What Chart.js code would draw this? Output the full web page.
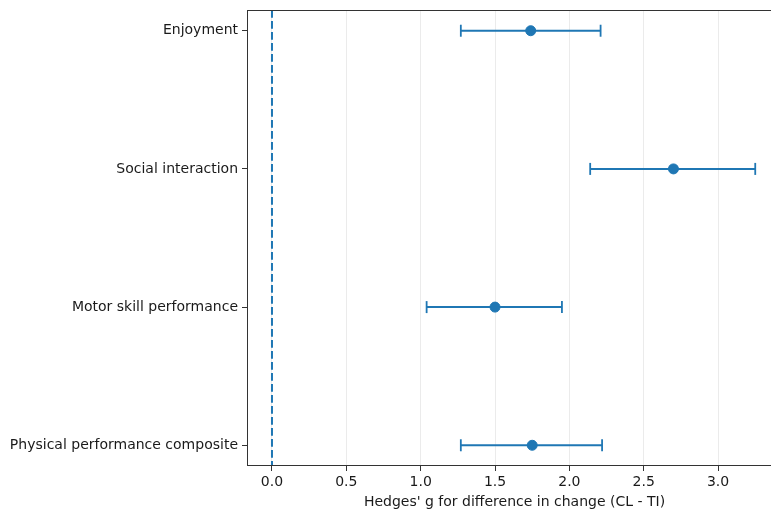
<!DOCTYPE html>
<html>
<head>
<meta charset="utf-8">
<script src="https://cdn.jsdelivr.net/npm/chart.js@4/dist/chart.umd.min.js"></script>
<style>
  html, body { margin: 0; padding: 0; background: #fff; overflow: hidden; }
  /* axes run a little past the right edge of the window, like the cropped original */
  #wrap { width: 782px; height: 511px; }
</style>
</head>
<body>
<div id="wrap"><canvas id="forest"></canvas></div>
<script>
const outcomes = ['Enjoyment', 'Social interaction', 'Motor skill performance', 'Physical performance composite'];
const hedgesG = [1.74, 2.70, 1.50, 1.75];
const ciLow = [1.27, 2.14, 1.04, 1.27];
const ciHigh = [2.21, 3.25, 1.95, 2.22];
const xTicks = [0, 0.5, 1.0, 1.5, 2.0, 2.5, 3.0];

const blue = '#1f77b4';
const dark = '#333333';

// one small line dataset per row for the confidence interval
const ciSets = outcomes.map((name, i) => ({
  type: 'line',
  data: [{ x: ciLow[i], y: i }, { x: ciHigh[i], y: i }],
  borderColor: blue,
  borderWidth: 2,
  pointStyle: 'line',
  rotation: 90,
  pointRadius: 6,
  pointBorderWidth: 1.8,
  pointBorderColor: blue,
  showLine: true,
  order: 2,
}));

const frame = {
  id: 'frame',
  afterDatasetsDraw(chart) {
    const a = chart.chartArea;
    const ctx = chart.ctx;
    ctx.save();
    ctx.strokeStyle = dark;
    ctx.lineWidth = 1;
    ctx.strokeRect(a.left + 0.5, a.top + 0.5, a.right - a.left - 1, a.bottom - a.top - 1);
    ctx.restore();
  },
};

new Chart(document.getElementById('forest'), {
  type: 'scatter',
  data: {
    datasets: [
      {
        type: 'line',
        data: [{ x: 0, y: -0.15 }, { x: 0, y: 3.15 }],
        borderColor: blue,
        borderWidth: 2,
        borderDash: [7.7, 3.3],
        pointRadius: 0,
        order: 3,
      },
      ...ciSets,
      {
        data: hedgesG.map((g, i) => ({ x: g, y: i })),
        backgroundColor: blue,
        borderColor: blue,
        pointRadius: 5,
        order: 1,
      },
    ],
  },
  options: {
    responsive: true,
    maintainAspectRatio: false,
    animation: false,
    layout: { autoPadding: false, padding: { top: 10, right: 0, left: 0, bottom: 0 } },
    plugins: {
      legend: { display: false },
      tooltip: { enabled: false },
    },
    scales: {
      x: {
        type: 'linear',
        min: -0.168,
        max: 3.43,
        afterBuildTicks: (s) => { s.ticks = xTicks.map((v) => ({ value: v })); },
        afterFit: (s) => { s.height = 45; s.paddingLeft = 0; s.paddingRight = 0; },
        border: { display: false },
        grid: { color: '#ebebeb', tickColor: dark, tickLength: 5, lineWidth: 1 },
        ticks: {
          padding: 3,
          color: '#1a1a1a',
          font: { family: 'DejaVu Sans', size: 14 },
          callback: (v) => v.toFixed(1),
        },
        title: {
          display: true,
          text: "Hedges' g for difference in change (CL - TI)",
          color: '#1a1a1a',
          font: { family: 'DejaVu Sans', size: 14 },
          padding: { top: 1, bottom: 0 },
        },
      },
      y: {
        type: 'linear',
        reverse: true,
        min: -0.15,
        max: 3.15,
        afterBuildTicks: (s) => { s.ticks = outcomes.map((o, i) => ({ value: i })); },
        afterFit: (s) => { s.width = 247; s.paddingTop = 0; s.paddingBottom = 0; },
        border: { display: false },
        grid: { drawOnChartArea: false, tickColor: dark, tickLength: 5 },
        ticks: {
          padding: 4,
          color: '#1a1a1a',
          font: { family: 'DejaVu Sans', size: 14 },
          callback: (v) => outcomes[v],
        },
      },
    },
  },
  plugins: [frame],
});
</script>
</body>
</html>
